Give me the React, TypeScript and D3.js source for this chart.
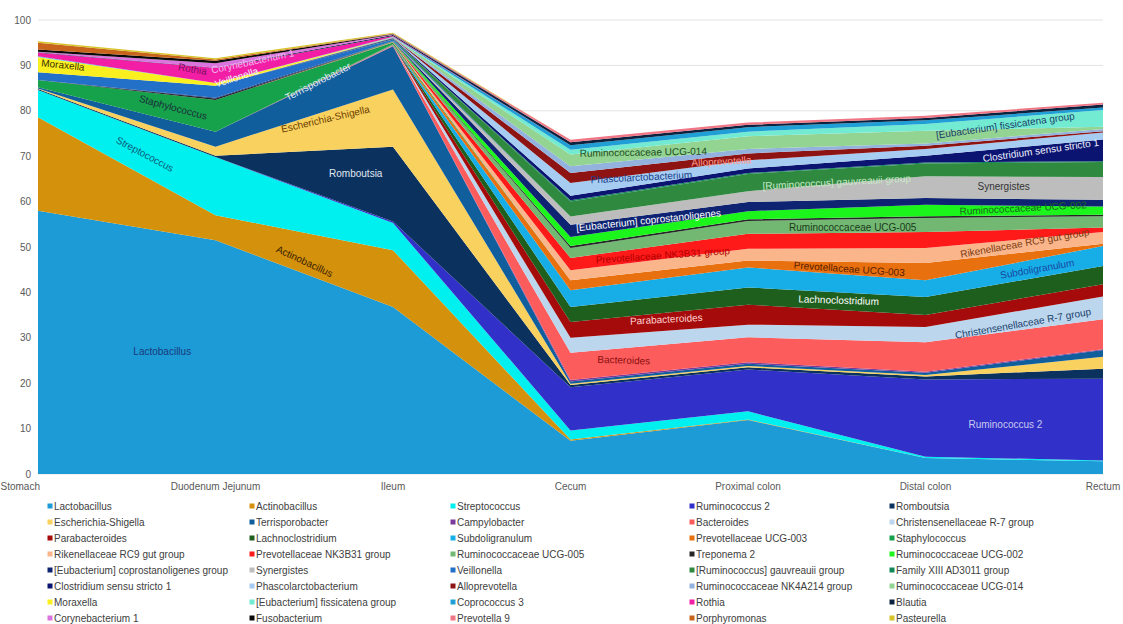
import React from "react";
import * as d3 from "d3";

const stages = ["Stomach", "Duodenum Jejunum", "Ileum", "Cecum", "Proximal colon", "Distal colon", "Rectum"];

const taxa = [
  "Lactobacillus", "Actinobacillus", "Streptococcus", "Ruminococcus 2", "Romboutsia",
  "Escherichia-Shigella", "Terrisporobacter", "Campylobacter", "Bacteroides", "Christensenellaceae R-7 group",
  "Parabacteroides", "Lachnoclostridium", "Subdoligranulum", "Prevotellaceae UCG-003", "Staphylococcus",
  "Rikenellaceae RC9 gut group", "Prevotellaceae NK3B31 group", "Ruminococcaceae UCG-005", "Treponema 2", "Ruminococcaceae UCG-002",
  "[Eubacterium] coprostanoligenes group", "Synergistes", "Veillonella", "[Ruminococcus] gauvreauii group", "Family XIII AD3011 group",
  "Clostridium sensu stricto 1", "Phascolarctobacterium", "Alloprevotella", "Ruminococcaceae NK4A214 group", "Ruminococcaceae UCG-014",
  "Moraxella", "[Eubacterium] fissicatena group", "Coprococcus 3", "Rothia", "Blautia",
  "Corynebacterium 1", "Fusobacterium", "Prevotella 9", "Porphyromonas", "Pasteurella",
];

// relative abundance (%) per stage, same order as stages
const lactobacillus = [58, 51.5, 36.8, 7.3, 11.9, 3.5, 2.8];
const actinobacillus = [20.6, 5.5, 12.5, 0.3, 0.1, 0, 0];
const streptococcus = [6, 12.8, 6, 2, 1.8, 0.3, 0.2];
const ruminococcus2 = [0, 0, 0.3, 9.5, 9.2, 17, 18];
const romboutsia = [0.2, 0.3, 16.5, 0.5, 0.5, 0.7, 2.2];
const escherichia = [0.1, 2, 12.6, 0.3, 0.3, 0.3, 2.6];
const terrisporobacter = [0.3, 3.3, 9.5, 0.5, 0.5, 0.5, 1.5];
const campylobacter = [0, 0, 0.1, 0.3, 0.3, 0.2, 0.2];
const bacteroides = [0, 0, 0.1, 6, 5.5, 6.5, 6.6];
const christensenellaceae = [0, 0, 0.05, 3.3, 2.8, 3.4, 5];
const parabacteroides = [0, 0, 0.05, 3.5, 4.4, 2.6, 2.7];
const lachnoclostridium = [0, 0, 0.05, 3.3, 3.8, 4, 4];
const subdoligranulum = [0, 0, 0.05, 3.7, 4.4, 3.7, 4.4];
const prevotellaceaeUcg003 = [0, 0, 0.05, 2.2, 1.5, 3.8, 0.5];
const staphylococcus = [1.6, 7, 0.4, 0, 0, 0, 0];
const rikenellaceae = [0, 0, 0.05, 2.2, 2.6, 3.3, 2.6];
const prevotellaceaeNk3b31 = [0, 0, 0.05, 2.7, 3.3, 3.5, 1];
const ruminococcaceaeUcg005 = [0, 0, 0.05, 2.2, 2.8, 3.1, 2.5];
const treponema2 = [0, 0.3, 0.05, 0.4, 0.4, 0.4, 0.3];
const ruminococcaceaeUcg002 = [0, 0, 0.05, 2, 1.8, 2.5, 1.8];
const coprostanoligenes = [0, 0.2, 0.05, 2.7, 2, 1.5, 1.5];
const synergistes = [0, 0, 0.05, 1.8, 2.4, 4.8, 5];
const veillonella = [1.7, 2.6, 0.3, 0, 0, 0, 0];
const gauvreauii = [0, 0, 0.05, 3.3, 3.8, 2.8, 3.3];
const familyXIII = [0, 0, 0.05, 0.3, 0.2, 0.2, 0.2];
const clostridium = [0, 0, 0.2, 1, 1, 1.5, 4.8];
const phascolarctobacterium = [0, 0, 0.05, 2.8, 1.8, 1.5, 1.5];
const alloprevotella = [0, 0, 0.05, 2.2, 1.5, 0.7, 0.3];
const ruminococcaceaeNk4a214 = [0, 0, 0.05, 1.5, 1, 0.5, 0.5];
const ruminococcaceaeUcg014 = [0, 0, 0.05, 2.6, 2.8, 2.8, 0.5];
const moraxella = [3.3, 0.6, 0, 0, 0, 0, 0];
const fissicatena = [0.1, 0, 0.05, 1, 1, 1.5, 3.7];
const coprococcus3 = [0.1, 0, 0.05, 1, 1, 0.8, 0.5];
const rothia = [0.8, 3.3, 0.2, 0, 0, 0, 0];
const blautia = [0.1, 0.1, 0.2, 0.7, 0.5, 0.5, 0.7];
const corynebacterium = [0.1, 1, 0.1, 0, 0, 0, 0];
const fusobacterium = [0.5, 0.5, 0.1, 0, 0, 0, 0];
const prevotella9 = [0, 0, 0.05, 0.5, 0.5, 0.5, 0.4];
const porphyromonas = [1.5, 0.3, 0.05, 0, 0, 0, 0];
const pasteurella = [0.3, 0.3, 0.2, 0, 0, 0, 0];

const seriesValues = [
  lactobacillus, actinobacillus, streptococcus, ruminococcus2, romboutsia,
  escherichia, terrisporobacter, campylobacter, bacteroides, christensenellaceae,
  parabacteroides, lachnoclostridium, subdoligranulum, prevotellaceaeUcg003, staphylococcus,
  rikenellaceae, prevotellaceaeNk3b31, ruminococcaceaeUcg005, treponema2, ruminococcaceaeUcg002,
  coprostanoligenes, synergistes, veillonella, gauvreauii, familyXIII,
  clostridium, phascolarctobacterium, alloprevotella, ruminococcaceaeNk4a214, ruminococcaceaeUcg014,
  moraxella, fissicatena, coprococcus3, rothia, blautia,
  corynebacterium, fusobacterium, prevotella9, porphyromonas, pasteurella,
];

const colors = [
  "#1c9bd7", "#d4920c", "#00f0f0", "#3131c9", "#0b315f",
  "#f9d15e", "#115e9d", "#7a3b9c", "#fd5c5c", "#bcd6ee",
  "#a50b0b", "#1e5f1e", "#17aee8", "#e8700f", "#16a24a",
  "#fbb58b", "#ff1a1a", "#72b872", "#262626", "#1cf51c",
  "#0e2472", "#bdbdbd", "#2370c8", "#2f8a3f", "#12875a",
  "#0b1470", "#a6ccf2", "#8e1414", "#93b3de", "#93d493",
  "#faf020", "#73ebd2", "#1f9fd6", "#f21fa6", "#0c2340",
  "#dc74e0", "#0a0a0a", "#f07585", "#c8641c", "#d6c428",
];

// in-chart annotations: [text, stage position, value, rotation, colour]
const notes: [string, number, number, number, string][] = [
  ["Lactobacillus", 0.7, 26.7, 0, "#1a3a7a"],
  ["Actinobacillus", 1.5, 46.7, 25, "#3a2000"],
  ["Streptococcus", 0.6, 70.3, 28, "#0d5a78"],
  ["Romboutsia", 1.79, 65.9, 0, "#e0e8f0"],
  ["Escherichia-Shigella", 1.62, 78, -13, "#6a3c00"],
  ["Terrisporobacter", 1.58, 86.3, -27, "#dfe9f5"],
  ["Staphylococcus", 0.76, 80.6, 15, "#1b2b3b"],
  ["Veillonella", 1.12, 87.2, -18, "#f0f4ff"],
  ["Moraxella", 0.14, 89.9, 6, "#3a3000"],
  ["Rothia", 0.87, 89, 10, "#7a1060"],
  ["Corynebacterium 1", 1.21, 90.7, -12, "#f4b8f0"],
  ["Ruminococcaceae UCG-014", 3.41, 70.7, -1, "#1d4d1d"],
  ["Alloprevotella", 3.85, 68.7, -3, "#ff9a8a"],
  ["Phascolarctobacterium", 3.4, 65.2, -3, "#1b3f8b"],
  ["[Eubacterium]  coprostanoligenes", 3.44, 55.7, -6, "#ffffff"],
  ["[Ruminococcus] gauvreauii group", 4.5, 64.1, -3, "#c8e8c8"],
  ["Synergistes", 5.44, 63.2, 0, "#333333"],
  ["Ruminococcaceae UCG-005", 4.59, 54.2, 0, "#1a3a1a"],
  ["Ruminococcaceae UCG-002", 5.55, 58.4, -3, "#1a6a1a"],
  ["Prevotellaceae NK3B31 group", 3.52, 48, -4, "#b00000"],
  ["Rikenellaceae RC9 gut group", 5.56, 50.7, -10, "#7a3a10"],
  ["Prevotellaceae UCG-003", 4.57, 45, 4, "#5a2000"],
  ["Subdoligranulum", 5.63, 45, -10, "#1848a0"],
  ["Lachnoclostridium", 4.51, 38.1, 2, "#ffffff"],
  ["Parabacteroides", 3.54, 33.9, -3, "#ffd0d0"],
  ["Christensenellaceae R-7 group", 5.55, 33, -10, "#1b3f6b"],
  ["Bacteroides", 3.3, 24.9, 2, "#8a1010"],
  ["Ruminococcus 2", 5.45, 10.8, 0, "#c8c8f0"],
  ["[Eubacterium] fissicatena group", 5.45, 76.6, -8, "#1b3f6b"],
  ["Clostridium sensu stricto 1", 5.65, 71.1, -8, "#eef0ff"],
];

const W = 1123;
const H = 624;
const font = "'Liberation Sans', Arial, sans-serif";

const App: React.FC = () => {
  const x = d3.scaleLinear().domain([0, stages.length - 1]).range([38, 1103]);
  const y = d3.scaleLinear().domain([0, 100]).range([474, 20]);

  const table = stages.map((s, i) => {
    const row: Record<string, number> = {};
    taxa.forEach((t, k) => (row[t] = seriesValues[k][i]));
    return row;
  });
  const stacked = d3.stack<Record<string, number>>().keys(taxa)(table);

  const area = d3
    .area<d3.SeriesPoint<Record<string, number>>>()
    .x((d, i) => x(i))
    .y0((d) => y(d[0]))
    .y1((d) => y(d[1]));

  const legendCols = [50, 252, 453, 692, 892];

  return (
    <svg width={W} height={H} style={{ position: "absolute", left: 0, top: 0, background: "#fff" }} fontFamily={font}>
      {y.ticks(10).map((t) => (
        <g key={t}>
          <line x1={38} x2={1103} y1={y(t)} y2={y(t)} stroke="#e3e3e3" strokeWidth={1} />
          <text x={31} y={y(t) + 3.5} textAnchor="end" fontSize={10} fill="#595959">
            {t}
          </text>
        </g>
      ))}
      {stacked.map((s, k) => (
        <path key={s.key} d={area(s) || ""} fill={colors[k]} />
      ))}
      {stages.map((s, i) => (
        <text
          key={s}
          x={i === 0 ? x(i) + 2 : x(i)}
          y={490}
          textAnchor={i === 0 ? "end" : "middle"}
          fontSize={10}
          fill="#595959"
        >
          {s}
        </text>
      ))}
      {notes.map(([t, px, v, r, c]) => (
        <text
          key={t}
          transform={`translate(${x(px)},${y(v)}) rotate(${r})`}
          textAnchor="middle"
          dominantBaseline="middle"
          fontSize={10}
          fill={c}
        >
          {t}
        </text>
      ))}
      {taxa.map((t, k) => {
        const cx = legendCols[k % 5];
        const cy = 506 + Math.floor(k / 5) * 16;
        return (
          <g key={t}>
            <rect x={cx - 2.5} y={cy - 2.5} width={5} height={5} fill={colors[k]} />
            <text x={cx + 4} y={cy + 3.5} fontSize={10} fill="#404040">
              {t}
            </text>
          </g>
        );
      })}
    </svg>
  );
};

export default App;
